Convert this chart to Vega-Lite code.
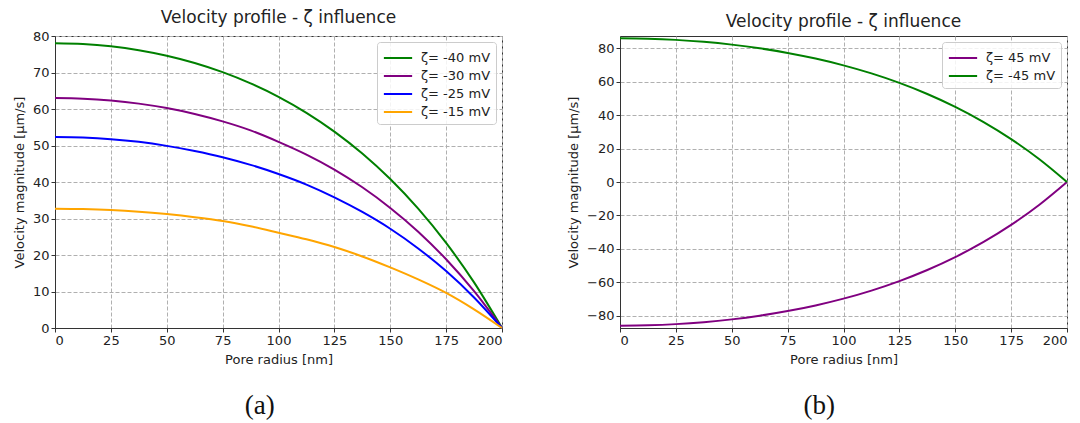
{
  "$schema": "https://vega.github.io/schema/vega-lite/v6.json",
  "background": "white",
  "padding": {"left": 12, "top": 8, "right": 5, "bottom": 2},
  "config": {
    "font": "DejaVu Sans",
    "view": {"stroke": "#333333", "strokeWidth": 1},
    "axis": {
      "labelFont": "DejaVu Sans", "titleFont": "DejaVu Sans",
      "labelFontSize": 13, "titleFontSize": 13, "titleFontWeight": "normal",
      "labelColor": "#222222", "titleColor": "#222222",
      "tickColor": "#333333", "tickSize": 4, "domainColor": "#333333",
      "gridColor": "#b0b0b0", "gridDash": [4, 2], "gridWidth": 1,
      "labelPadding": 2, "titlePadding": 6
    },
    "title": {"font": "DejaVu Sans", "fontSize": 17, "fontWeight": "normal", "color": "#222222", "offset": 3},
    "legend": {
      "orient": "top-right", "offset": 6, "fillColor": "rgba(255,255,255,0.85)",
      "strokeColor": "#cccccc", "cornerRadius": 3, "padding": 5,
      "labelFont": "DejaVu Sans", "labelFontSize": 13, "labelColor": "#222222",
      "symbolType": "M-1.45,0H1.45", "symbolSize": 380, "symbolStrokeWidth": 2,
      "symbolFillColor": "transparent", "symbolOffset": 5,
      "rowPadding": 0, "labelOffset": 12
    }
  },
  "datasets": {
    "a": [
      {"r": 0, "v": 78.0, "zeta": "ζ= -40 mV"}, {"r": 12.5, "v": 77.79, "zeta": "ζ= -40 mV"}, {"r": 25, "v": 77.16, "zeta": "ζ= -40 mV"}, {"r": 37.5, "v": 76.1, "zeta": "ζ= -40 mV"}, {"r": 50, "v": 74.59, "zeta": "ζ= -40 mV"}, {"r": 62.5, "v": 72.6, "zeta": "ζ= -40 mV"}, {"r": 75, "v": 70.09, "zeta": "ζ= -40 mV"}, {"r": 87.5, "v": 67.02, "zeta": "ζ= -40 mV"}, {"r": 100, "v": 63.34, "zeta": "ζ= -40 mV"}, {"r": 112.5, "v": 58.96, "zeta": "ζ= -40 mV"}, {"r": 125, "v": 53.81, "zeta": "ζ= -40 mV"}, {"r": 137.5, "v": 47.8, "zeta": "ζ= -40 mV"}, {"r": 150, "v": 40.8, "zeta": "ζ= -40 mV"}, {"r": 162.5, "v": 32.69, "zeta": "ζ= -40 mV"}, {"r": 175, "v": 23.31, "zeta": "ζ= -40 mV"}, {"r": 187.5, "v": 12.49, "zeta": "ζ= -40 mV"}, {"r": 200, "v": 0, "zeta": "ζ= -40 mV"},
      {"r": 0, "v": 63.0, "zeta": "ζ= -30 mV"}, {"r": 12.5, "v": 62.83, "zeta": "ζ= -30 mV"}, {"r": 25, "v": 62.32, "zeta": "ζ= -30 mV"}, {"r": 37.5, "v": 61.47, "zeta": "ζ= -30 mV"}, {"r": 50, "v": 60.25, "zeta": "ζ= -30 mV"}, {"r": 62.5, "v": 58.64, "zeta": "ζ= -30 mV"}, {"r": 75, "v": 56.61, "zeta": "ζ= -30 mV"}, {"r": 87.5, "v": 54.14, "zeta": "ζ= -30 mV"}, {"r": 100, "v": 51.0, "zeta": "ζ= -30 mV"}, {"r": 112.5, "v": 47.5, "zeta": "ζ= -30 mV"}, {"r": 125, "v": 43.4, "zeta": "ζ= -30 mV"}, {"r": 137.5, "v": 38.55, "zeta": "ζ= -30 mV"}, {"r": 150, "v": 32.9, "zeta": "ζ= -30 mV"}, {"r": 162.5, "v": 26.4, "zeta": "ζ= -30 mV"}, {"r": 175, "v": 18.83, "zeta": "ζ= -30 mV"}, {"r": 187.5, "v": 10.09, "zeta": "ζ= -30 mV"}, {"r": 200, "v": 0, "zeta": "ζ= -30 mV"},
      {"r": 0, "v": 52.3, "zeta": "ζ= -25 mV"}, {"r": 12.5, "v": 52.16, "zeta": "ζ= -25 mV"}, {"r": 25, "v": 51.74, "zeta": "ζ= -25 mV"}, {"r": 37.5, "v": 51.0, "zeta": "ζ= -25 mV"}, {"r": 50, "v": 49.9, "zeta": "ζ= -25 mV"}, {"r": 62.5, "v": 48.5, "zeta": "ζ= -25 mV"}, {"r": 75, "v": 46.8, "zeta": "ζ= -25 mV"}, {"r": 87.5, "v": 44.7, "zeta": "ζ= -25 mV"}, {"r": 100, "v": 42.2, "zeta": "ζ= -25 mV"}, {"r": 112.5, "v": 39.3, "zeta": "ζ= -25 mV"}, {"r": 125, "v": 35.8, "zeta": "ζ= -25 mV"}, {"r": 137.5, "v": 31.8, "zeta": "ζ= -25 mV"}, {"r": 150, "v": 27.2, "zeta": "ζ= -25 mV"}, {"r": 162.5, "v": 21.8, "zeta": "ζ= -25 mV"}, {"r": 175, "v": 15.6, "zeta": "ζ= -25 mV"}, {"r": 187.5, "v": 8.37, "zeta": "ζ= -25 mV"}, {"r": 200, "v": 0, "zeta": "ζ= -25 mV"},
      {"r": 0, "v": 32.7, "zeta": "ζ= -15 mV"}, {"r": 12.5, "v": 32.61, "zeta": "ζ= -15 mV"}, {"r": 25, "v": 32.35, "zeta": "ζ= -15 mV"}, {"r": 37.5, "v": 31.88, "zeta": "ζ= -15 mV"}, {"r": 50, "v": 31.2, "zeta": "ζ= -15 mV"}, {"r": 62.5, "v": 30.35, "zeta": "ζ= -15 mV"}, {"r": 75, "v": 29.3, "zeta": "ζ= -15 mV"}, {"r": 87.5, "v": 27.85, "zeta": "ζ= -15 mV"}, {"r": 100, "v": 26.1, "zeta": "ζ= -15 mV"}, {"r": 112.5, "v": 24.3, "zeta": "ζ= -15 mV"}, {"r": 125, "v": 22.2, "zeta": "ζ= -15 mV"}, {"r": 137.5, "v": 19.6, "zeta": "ζ= -15 mV"}, {"r": 150, "v": 16.6, "zeta": "ζ= -15 mV"}, {"r": 162.5, "v": 13.3, "zeta": "ζ= -15 mV"}, {"r": 175, "v": 9.6, "zeta": "ζ= -15 mV"}, {"r": 187.5, "v": 5.1, "zeta": "ζ= -15 mV"}, {"r": 200, "v": 0, "zeta": "ζ= -15 mV"}
    ],
    "b": [
      {"r": 0, "v": -86.0, "zeta": "ζ= 45 mV"}, {"r": 12.5, "v": -85.77, "zeta": "ζ= 45 mV"}, {"r": 25, "v": -85.08, "zeta": "ζ= 45 mV"}, {"r": 37.5, "v": -83.91, "zeta": "ζ= 45 mV"}, {"r": 50, "v": -82.24, "zeta": "ζ= 45 mV"}, {"r": 62.5, "v": -80.05, "zeta": "ζ= 45 mV"}, {"r": 75, "v": -77.28, "zeta": "ζ= 45 mV"}, {"r": 87.5, "v": -73.9, "zeta": "ζ= 45 mV"}, {"r": 100, "v": -69.83, "zeta": "ζ= 45 mV"}, {"r": 112.5, "v": -65.01, "zeta": "ζ= 45 mV"}, {"r": 125, "v": -59.33, "zeta": "ζ= 45 mV"}, {"r": 137.5, "v": -52.7, "zeta": "ζ= 45 mV"}, {"r": 150, "v": -44.99, "zeta": "ζ= 45 mV"}, {"r": 162.5, "v": -36.05, "zeta": "ζ= 45 mV"}, {"r": 175, "v": -25.71, "zeta": "ζ= 45 mV"}, {"r": 187.5, "v": -13.77, "zeta": "ζ= 45 mV"}, {"r": 200, "v": 0, "zeta": "ζ= 45 mV"},
      {"r": 0, "v": 86.0, "zeta": "ζ= -45 mV"}, {"r": 12.5, "v": 85.77, "zeta": "ζ= -45 mV"}, {"r": 25, "v": 85.08, "zeta": "ζ= -45 mV"}, {"r": 37.5, "v": 83.91, "zeta": "ζ= -45 mV"}, {"r": 50, "v": 82.24, "zeta": "ζ= -45 mV"}, {"r": 62.5, "v": 80.05, "zeta": "ζ= -45 mV"}, {"r": 75, "v": 77.28, "zeta": "ζ= -45 mV"}, {"r": 87.5, "v": 73.9, "zeta": "ζ= -45 mV"}, {"r": 100, "v": 69.83, "zeta": "ζ= -45 mV"}, {"r": 112.5, "v": 65.01, "zeta": "ζ= -45 mV"}, {"r": 125, "v": 59.33, "zeta": "ζ= -45 mV"}, {"r": 137.5, "v": 52.7, "zeta": "ζ= -45 mV"}, {"r": 150, "v": 44.99, "zeta": "ζ= -45 mV"}, {"r": 162.5, "v": 36.05, "zeta": "ζ= -45 mV"}, {"r": 175, "v": 25.71, "zeta": "ζ= -45 mV"}, {"r": 187.5, "v": 13.77, "zeta": "ζ= -45 mV"}, {"r": 200, "v": 0, "zeta": "ζ= -45 mV"}
    ]
  },
  "spacing": 60,
  "resolve": {"scale": {"color": "independent"}, "legend": {"color": "independent"}},
  "hconcat": [
    {
      "title": {"text": "(a)", "orient": "bottom", "font": "Liberation Serif", "fontSize": 27, "color": "#111111", "offset": 26, "anchor": "middle"},
      "resolve": {"scale": {"color": "independent"}, "legend": {"color": "independent"}},
      "vconcat": [
        {
          "width": 447, "height": 292,
          "title": "Velocity profile - ζ influence",
          "data": {"name": "a"},
          "mark": {"type": "line", "strokeWidth": 2, "interpolate": "monotone"},
          "encoding": {
            "x": {"field": "r", "type": "quantitative", "scale": {"domain": [0, 200], "nice": false},
                  "axis": {"title": "Pore radius [nm]", "values": [0, 25, 50, 75, 100, 125, 150, 175, 200]}},
            "y": {"field": "v", "type": "quantitative", "scale": {"domain": [0, 80], "nice": false},
                  "axis": {"title": "Velocity magnitude [μm/s]", "values": [0, 10, 20, 30, 40, 50, 60, 70, 80]}},
            "color": {"field": "zeta", "type": "nominal",
                      "scale": {"domain": ["ζ= -40 mV", "ζ= -30 mV", "ζ= -25 mV", "ζ= -15 mV"], "range": ["#008000", "#800080", "#0000ff", "#ffa500"]},
                      "legend": {"title": null}}
          }
        }
      ]
    },
    {
      "title": {"text": "(b)", "orient": "bottom", "font": "Liberation Serif", "fontSize": 27, "color": "#111111", "offset": 26, "anchor": "middle"},
      "resolve": {"scale": {"color": "independent"}, "legend": {"color": "independent"}},
      "vconcat": [
        {
          "width": 447, "height": 292,
          "title": "Velocity profile - ζ influence",
          "data": {"name": "b"},
          "mark": {"type": "line", "strokeWidth": 2, "interpolate": "monotone"},
          "encoding": {
            "x": {"field": "r", "type": "quantitative", "scale": {"domain": [0, 200], "nice": false},
                  "axis": {"title": "Pore radius [nm]", "values": [0, 25, 50, 75, 100, 125, 150, 175, 200]}},
            "y": {"field": "v", "type": "quantitative", "scale": {"domain": [-87.4, 87.4], "nice": false},
                  "axis": {"title": "Velocity magnitude [μm/s]", "values": [-80, -60, -40, -20, 0, 20, 40, 60, 80]}},
            "color": {"field": "zeta", "type": "nominal",
                      "scale": {"domain": ["ζ= 45 mV", "ζ= -45 mV"], "range": ["#800080", "#008000"]},
                      "legend": {"title": null}}
          }
        }
      ]
    }
  ]
}
